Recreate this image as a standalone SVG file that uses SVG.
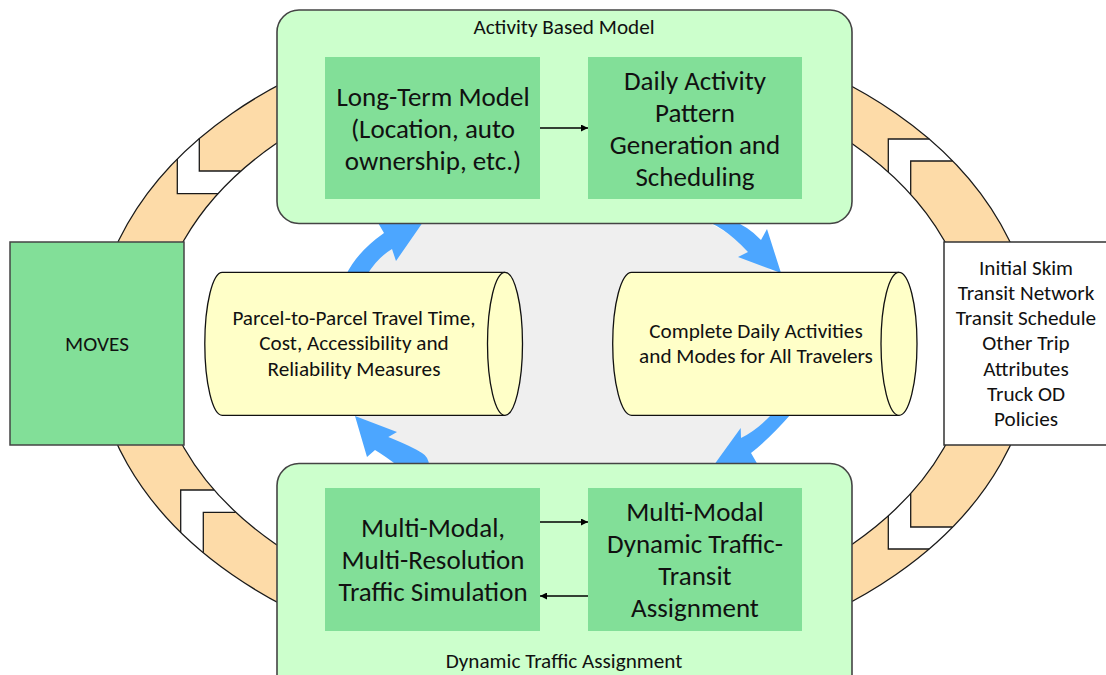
<svg xmlns="http://www.w3.org/2000/svg" width="1106" height="675" viewBox="0 0 1106 675">
<defs>
<style>
.ring{fill:#fddba8;stroke:none}
.rline{fill:none;stroke:#1a1a1a;stroke-width:1.3}
.gap{fill:#ffffff;stroke:none}
.blue{fill:#4ca6ff;stroke:none}
.cyl{fill:#ffffc8;stroke:#111;stroke-width:1.3}
.big{fill:#ccffcc;stroke:#444;stroke-width:1.6}
.inner{fill:#82df98;stroke:none}
.t{font-family:"Carlito","Liberation Sans",Arial,sans-serif;fill:#111;text-anchor:middle}
.s{font-size:21.2px}
.l{font-size:27px}
.con{stroke:#000;stroke-width:1.3;fill:none;marker-end:url(#ah)}
</style>
<marker id="ah" viewBox="0 0 10 10" refX="10" refY="5" markerWidth="9" markerHeight="7" markerUnits="userSpaceOnUse" orient="auto">
<path d="M0,0 L10,5 L0,10 Z" fill="#000"/>
</marker>
</defs>

<g id="ring">
<ellipse class="ring" cx="564" cy="344" rx="469.6" ry="326"/>
<ellipse cx="564" cy="344" rx="408.6" ry="282.4" fill="#fff"/>
<polygon class="gap" points="199.3,120 199.3,171 250,171 230,193.7 177.3,193.7 177.3,145"/>
<polygon class="gap" points="180.7,545 180.7,490 225,490 245,512.3 203.3,512.3 203.3,565"/>
<polygon class="gap" points="940,139 888.3,139 888.3,185 910.7,205 910.7,161 965,161"/>
<polygon class="gap" points="940,549 888.3,549 888.3,503 910.7,483 910.7,527 965,527"/>
<ellipse class="rline" cx="564" cy="344" rx="469.6" ry="326"/>
<ellipse class="rline" cx="564" cy="344" rx="408.6" ry="282.4"/>
<polyline class="rline" points="199.3,138.6 199.3,171 240.5,171"/>
<polyline class="rline" points="177.3,159 177.3,193.7 218,193.7"/>
<polyline class="rline" points="180.7,532.4 180.7,490 214,490"/>
<polyline class="rline" points="203.3,552.7 203.3,512.3 235.6,512.3"/>
<polyline class="rline" points="929.2,139 888.3,139 888.3,172"/>
<polyline class="rline" points="952.6,161 910.7,161 910.7,194.2"/>
<polyline class="rline" points="929.2,549 888.3,549 888.3,516"/>
<polyline class="rline" points="952.6,527 910.7,527 910.7,493.8"/>
</g>

<g id="cycle">
<ellipse cx="564" cy="344" rx="235" ry="154" fill="#efefef"/>
<path class="blue" d="M346,275 Q357,252 384,233 L374,216 L430,212 L396,261 L392,249 Q377,258 367,275 Z"/>
<path class="blue" d="M699,219 Q722,224 748,252 L738,257 L781,273 L767,229 L761,240 Q748,226 729,219 Z"/>
<path class="blue" d="M772,414 Q757,430 741,438 L740.7,428 L706,476 L762,472 L751,453 Q770,438 791,414 Z"/>
<path class="blue" d="M398,466 Q385,456 375,450 L367,457 L355,416 L397,432 L388.3,437 Q413,447 422,453 Q429,457 429,466 Z"/>
</g>

<g id="parcel">
<path class="cyl" d="M222.3,272.3 L505,272.3 A17.5 71.5 0 0 1 505,415.3 L222.3,415.3 A17.5 71.5 0 0 1 222.3,272.3 Z"/>
<path class="cyl" d="M505,272.3 A17.5 71.5 0 0 0 505,415.3" fill="none"/>
<text class="t s" x="354" y="325">Parcel-to-Parcel Travel Time,</text>
<text class="t s" x="354" y="350">Cost, Accessibility and</text>
<text class="t s" x="354" y="375.5">Reliability Measures</text>
</g>

<g id="complete">
<path class="cyl" d="M631.7,272.3 L899,272.3 A18 71.5 0 0 1 899,415.3 L631.7,415.3 A19 71.5 0 0 1 631.7,272.3 Z"/>
<path class="cyl" d="M899,272.3 A18 71.5 0 0 0 899,415.3" fill="none"/>
<text class="t s" x="756" y="338">Complete Daily Activities</text>
<text class="t s" x="756" y="363">and Modes for All Travelers</text>
</g>

<g id="abm">
<rect class="big" x="277" y="10" width="575" height="213.5" rx="22"/>
<text class="t s" x="564" y="34">Activity Based Model</text>
</g>

<g id="longterm">
<rect class="inner" x="325" y="57" width="215" height="142"/>
<text class="t l" x="433" y="106">Long-Term Model</text>
<text class="t l" x="433" y="138">(Location, auto</text>
<text class="t l" x="433" y="170">ownership, etc.)</text>
</g>

<g id="daily">
<rect class="inner" x="588" y="57" width="214" height="142"/>
<text class="t l" x="695" y="90">Daily Activity</text>
<text class="t l" x="695" y="122">Pattern</text>
<text class="t l" x="695" y="154">Generation and</text>
<text class="t l" x="695" y="186">Scheduling</text>
</g>

<g id="dta">
<rect class="big" x="277" y="463.5" width="575" height="240" rx="22"/>
<text class="t s" x="564" y="668">Dynamic Traffic Assignment</text>
</g>

<g id="sim">
<rect class="inner" x="325" y="488" width="215" height="143"/>
<text class="t l" x="433" y="537">Multi-Modal,</text>
<text class="t l" x="433" y="569">Multi-Resolution</text>
<text class="t l" x="433" y="601">Traffic Simulation</text>
</g>

<g id="assign">
<rect class="inner" x="588" y="488" width="214" height="143"/>
<text class="t l" x="695" y="521">Multi-Modal</text>
<text class="t l" x="695" y="553">Dynamic Traffic-</text>
<text class="t l" x="695" y="585">Transit</text>
<text class="t l" x="695" y="617">Assignment</text>
</g>

<g id="moves">
<rect x="10" y="242" width="174" height="203" fill="#82df98" stroke="#444" stroke-width="1.5"/>
<text class="t s" x="97" y="351">MOVES</text>
</g>

<g id="inputs">
<rect x="944" y="242" width="170" height="203" fill="#fff" stroke="#333" stroke-width="1.5"/>
<text class="t s" x="1026" y="274.5">Initial Skim</text>
<text class="t s" x="1026" y="299.8">Transit Network</text>
<text class="t s" x="1026" y="325">Transit Schedule</text>
<text class="t s" x="1026" y="350.3">Other Trip</text>
<text class="t s" x="1026" y="375.6">Attributes</text>
<text class="t s" x="1026" y="401">Truck OD</text>
<text class="t s" x="1026" y="426.3">Policies</text>
</g>

<g id="connectors">
<line class="con" x1="540" y1="128" x2="588" y2="128"/>
<line class="con" x1="540" y1="522" x2="588" y2="522"/>
<line class="con" x1="588" y1="596" x2="540" y2="596"/>
</g>
</svg>
